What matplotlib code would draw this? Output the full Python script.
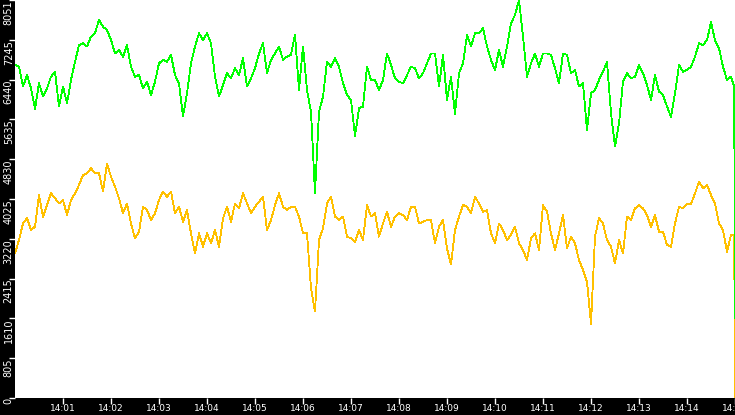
import numpy as np
import matplotlib
matplotlib.use("Agg")
import matplotlib.pyplot as plt

# seconds after 14:00:00, one reading every 5 s, plus the last two ticks
t_sec = np.concatenate([np.arange(0, 900, 5), [899, 900]])

green = [
    6740, 6700, 6300, 6535, 6265, 5850, 6370, 6100, 6265, 6500, 6600, 5900, 6300, 5960, 6435, 6800,
    7140, 7175, 7110, 7310, 7380, 7650, 7510, 7445, 7240, 6970, 7040, 6905, 7140, 6700, 6500, 6535,
    6265, 6400, 6130, 6400, 6770, 6840, 6800, 6940, 6535, 6365, 5700, 6165, 6770, 7110, 7380,
    7240, 7380, 7175, 6500, 6100, 6330, 6570, 6465, 6670, 6535, 6870, 6300, 6465, 6670, 6970,
    7175, 6570, 6840, 6970, 7110, 6840, 6905, 6940, 7350, 6230, 7110, 6230, 5790, 4150, 5790,
    6095, 6800, 6700, 6870, 6700, 6365, 6130, 6030, 5300, 5860, 5895, 6700, 6435, 6435, 6230,
    6435, 6970, 6735, 6465, 6400, 6365, 6535, 6700, 6670, 6465, 6570, 6770, 6970, 6970, 6300,
    6940, 6030, 6500, 5750, 6570, 6770, 7345, 7110, 7380, 7380, 7480, 7110, 6840, 6635, 7040,
    6700, 7110, 7580, 7750, 8051, 7310, 6500, 6770, 6970, 6700, 6970, 6970, 6940, 6670, 6365,
    6970, 6940, 6570, 6635, 6300, 6365, 5420, 6165, 6230, 6435, 6600, 6800, 5760, 5085, 5555,
    6400, 6570, 6465, 6500, 6735, 6570, 6330, 6030, 6535, 6200, 6130, 5895, 5690, 6165,
    6735, 6600, 6635, 6700, 6905, 7175, 7140, 7240, 7600, 7240, 7075, 6700, 6435, 6500,
    6300, 1610,
]

yellow = [
    2925, 3195, 3530, 3635, 3400, 3465, 4105, 3665, 3900, 4140, 4040, 3935, 4005, 3700, 4005, 4140,
    4310, 4510, 4545, 4645, 4545, 4545, 4175, 4745, 4475, 4275, 4040, 3735, 3935, 3530, 3230, 3365,
    3870, 3800, 3600, 3735, 4005, 4175, 4070, 4175, 3735, 3870, 3566, 3800, 3330, 2925, 3330,
    3060, 3330, 3130, 3400, 3060, 3635, 3870, 3566, 3935, 3836, 4140, 3935, 3735, 3870, 3970,
    4070, 3400, 3600, 3900, 4140, 3870, 3800, 3870, 3870, 3670, 3330, 3330, 2220, 1750, 3195,
    3430, 3935, 4070, 3670, 3600, 3670, 3265, 3230, 3160, 3400, 3195, 3900, 3670, 3735, 3265,
    3530, 3770, 3465, 3670, 3735, 3700, 3600, 3870, 3870, 3530, 3566, 3600, 3600, 3130, 3465,
    3600, 3027, 2700, 3400, 3670, 3905, 3870, 3735, 4070, 3935, 3770, 3800, 3330, 3130, 3530,
    3400, 3195, 3300, 3465, 3130, 2993, 2790, 3230, 3330, 2993, 3900, 3770, 3330, 2993, 3330,
    3700, 3027, 3265, 3130, 2790, 2590, 2352, 1500, 3265, 3635, 3530, 3195, 3060, 2723, 3195,
    2925, 3670, 3600, 3836, 3900, 3836, 3700, 3465, 3700, 3365, 3365, 3095, 3060, 3530,
    3870, 3836, 3925, 3925, 4140, 4376, 4240, 4310, 4105, 3935, 3530, 3400, 2960, 3300,
    3300, 0,
]

y_max = 8051
y_ticks = [0, 805, 1610, 2415, 3220, 4025, 4830, 5635, 6440, 7245, 8051]
x_ticks = [60, 120, 180, 240, 300, 360, 420, 480, 540, 600, 660, 720, 780, 840, 900]
x_labels = ["14:01", "14:02", "14:03", "14:04", "14:05", "14:06", "14:07", "14:08",
            "14:09", "14:10", "14:11", "14:12", "14:13", "14:14", "14:15"]

fig = plt.figure(figsize=(7.35, 4.15), dpi=100, facecolor="black")
ax = fig.add_axes([15 / 735, 17 / 415, 720 / 735, 398 / 415])
ax.set_facecolor("white")

ax.plot(t_sec, yellow, color="#ffc000", lw=0.6, antialiased=False)
ax.plot(t_sec, green, color="#00ff00", lw=0.6, antialiased=False)

ax.set_xlim(0, 900)
ax.set_ylim(0, y_max)
for s in ax.spines.values():
    s.set_visible(False)

ax.set_yticks([v * y_max / 10 for v in range(11)])
ax.set_yticklabels([str(v) for v in y_ticks], rotation=90, va="top", ha="center")
ax.set_xticks(x_ticks)
ax.set_xticklabels(x_labels)

ax.tick_params(axis="y", colors="white", length=4, width=1, pad=0.5, labelsize=7)
ax.tick_params(axis="x", colors="white", length=4, width=1, pad=0.5, labelsize=6.5)

fig.savefig("out.png", dpi=100, facecolor="black")
